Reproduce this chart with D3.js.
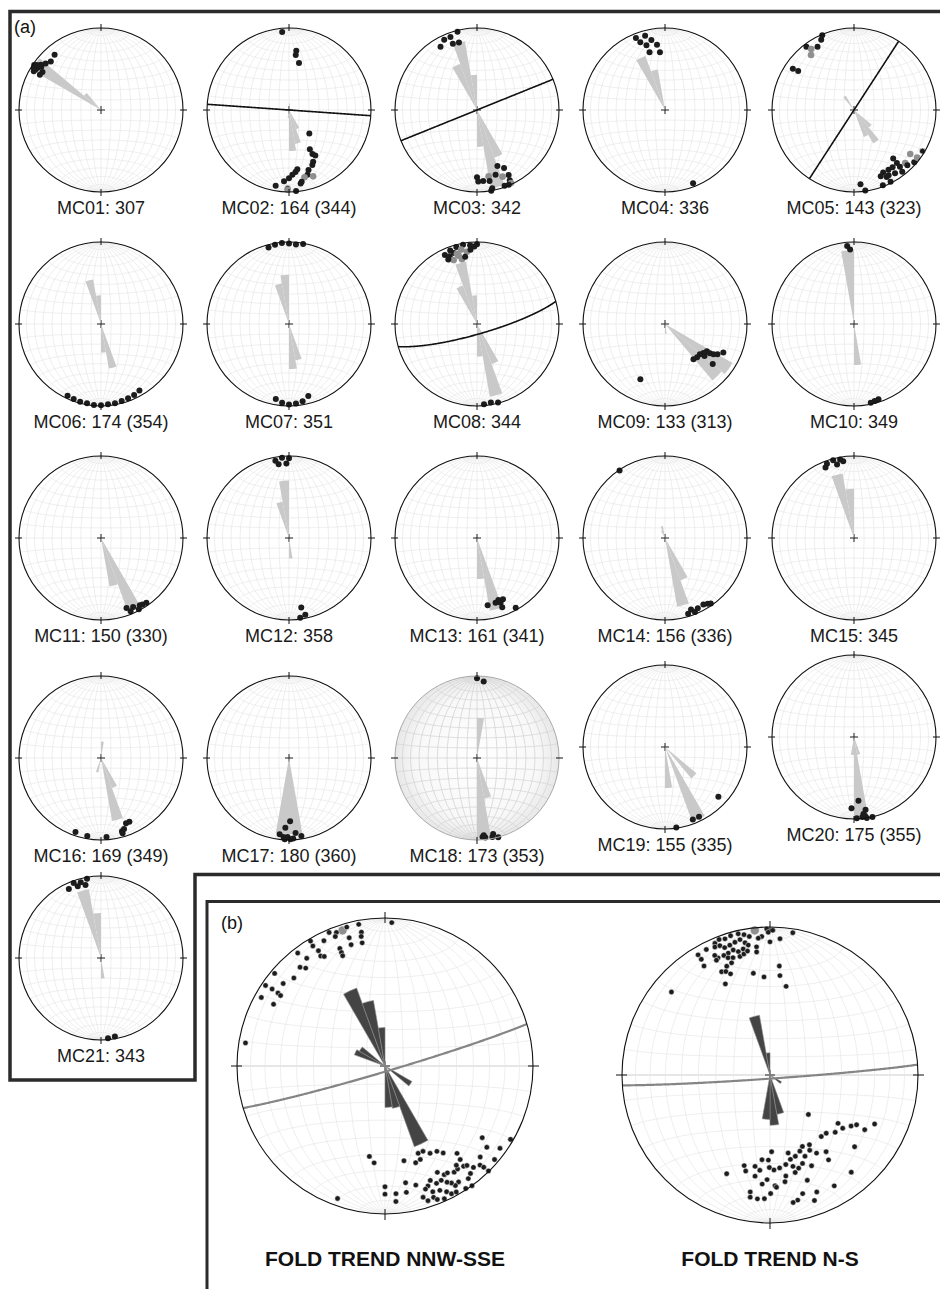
<!DOCTYPE html>
<html><head><meta charset="utf-8">
<script src="https://cdnjs.cloudflare.com/ajax/libs/d3/7.8.5/d3.min.js"></script>
<style>
html,body{margin:0;padding:0;background:#fff;}
svg{display:block;font-family:"Liberation Sans",Arial,Helvetica,sans-serif;}
</style></head><body>
<svg id="fig" width="940" height="1289"></svg>
<script>
// ---- Site data: lineations as [trend, plunge, kind] (kind 1 = grey, 2 = ringed)
const siteLabels = ["MC01: 307","MC02: 164 (344)","MC03: 342","MC04: 336","MC05: 143 (323)",
  "MC06: 174 (354)","MC07: 351","MC08: 344","MC09: 133 (313)","MC10: 349",
  "MC11: 150 (330)","MC12: 358","MC13: 161 (341)","MC14: 156 (336)","MC15: 345",
  "MC16: 169 (349)","MC17: 180 (360)","MC18: 173 (353)","MC19: 155 (335)","MC20: 175 (355)",
  "MC21: 343"];

// rose petals per site: [bin start azimuth, frequency in % of net radius], 10 degree bins
const siteRoses = [
  [[300,98],[310,27]],
  [[170,50],[160,42],[150,25],[0,8],[180,10]],
  [[340,85],[330,60],[350,43],[160,97],[150,62],[170,45]],
  [[330,70],[340,50]],
  [[140,47],[150,35],[130,28],[320,20]],
  [[340,55],[350,35],[160,55],[170,35]],
  [[340,50],[350,60],[160,45],[170,55]],
  [[340,77],[330,50],[350,35],[160,90],[150,52],[170,40]],
  [[120,95],[130,90],[170,12]],
  [[350,90],[170,50]],
  [[150,95],[160,60]],
  [[350,70],[340,45],[170,25]],
  [[160,90],[170,50]],
  [[160,85],[150,55],[340,15],[330,10]],
  [[340,80],[350,60]],
  [[160,78],[150,39],[190,18],[0,20]],
  [[170,93],[180,93]],
  [[0,49],[170,97],[160,50]],
  [[150,97],[130,50],[170,50]],
  [[170,100],[160,22],[180,22]],
  [[340,85],[350,55],[170,25]]
];

const sitePoints = [
  [[304,2],[304,8],[306,11],[302,7],[303,16],[300,15],[300,6],[310,13],[314,16],[320,13],[302,4],[305,5],[307,9]],
  [[355,5],[7,28],[7,33],[12,41],[139,59],[152,45],[152,39],[150,36],[155,31],[157,28],[162,24],[164,19],[167,17,1],[160,15,1],[170,12],[171,10],[172,28],[174,25],[177,22],[180,18],[184,14],[190,7],[181,5,2],[181,3,1],[175,1]],
  [[330,12],[335,6],[340,6],[346,2],[340,15],[345,16],[160,28],[155,23],[154,13],[164,19],[170,19,1],[159,14,1],[180,19],[179,14],[175,14],[170,13],[155,6],[155,2,1],[160,2],[169,3],[170,0],[157,1]],
  [[338,6],[340,13],[345,7],[349,14],[344,19],[353,21],[355,30],[345,28],[159,5]],
  [[323,4],[325,10,1],[322,16,1],[330,12],[335,6],[337,1],[304,11],[305,18],[175,10],[172,1],[159,2],[158,14],[155,17],[150,17],[146,17],[141,25],[141,18],[141,12],[136,11,1],[128,14,1],[131,3],[127,4,1],[121,3,2],[154,10],[153,2],[147,9],[142,5],[136,7],[152,11]],
  [[205,4],[200,3],[195,2],[190,2],[185,1],[180,1],[175,2],[170,2],[165,3],[160,4],[155,5],[150,7]],
  [[350,2],[355,1],[0,2],[5,3],[10,1],[345,4],[170,5],[175,3],[180,2],[185,4],[190,8],[165,10]],
  [[340,5],[345,3],[350,2],[355,4],[342,10],[348,8,1],[352,12,1],[345,15,1],[338,12],[335,8],[355,10],[358,6],[0,3],[347,20,1],[350,18],[340,18,1],[336,15],[344,12,1],[170,3],[175,2],[165,1]],
  [[141,44],[136,43],[131,43],[127,41],[123,39],[123,35],[122,31],[120,27],[129,38],[116,22],[130,25],[204,27]],
  [[355,5],[357,10],[165,3],[162,4],[168,2]],
  [[155,8],[150,6],[148,5],[145,4],[158,4],[152,2],[160,10]],
  [[350,5],[355,2],[0,3],[352,10],[358,10],[170,15],[168,5],[172,2]],
  [[171,18],[164,19],[161,21],[160,17],[160,11],[151,3],[157,20]],
  [[326,1],[160,8],[155,6],[150,7],[147,5],[145,3],[163,4],[158,3]],
  [[340,4],[345,2],[350,3],[338,8],[347,9],[352,6]],
  [[199,5],[190,4],[176,4],[164,8],[162,10],[159,16],[156,16],[164,5]],
  [[179,24],[183,16],[187,7],[184,4],[181,4],[175,9],[177,2],[171,4],[183,1],[179,1]],
  [[0,3],[5,7],[175,6],[174,3],[168,6],[169,2],[165,0],[176,4]],
  [[133,12],[159,6],[154,6],[172,1]],
  [[176,23],[182,14],[171,11],[178,1],[174,2],[172,3],[171,0],[167,0],[173,6]],
  [[340,3],[345,5],[350,2],[342,9],[348,10],[335,8],[170,3],[175,2]]
];

// fitted planes per site: [strike, dip] (right-hand rule) or null
const sitePlanes = [null,[94,90],[68,90],null,[33,90],null,null,[74,80],null,null,
  null,null,null,null,null,null,null,null,null,null,null];

// ---- Grouped data (panel b)
const groupTitles = ["FOLD TREND NNW-SSE","FOLD TREND N-S"];
const groupRoses = [
  [[330,56],[340,45],[350,26],[290,22],[300,20],[150,58],[160,29],[170,28],[120,21]],
  [[340,41],[350,15],[170,34],[160,27],[180,30],[120,9]]
];
const groupPlanes = [[73.5,87],[86,88]];
const groupPoints = [
  [[2.7,3.4],[349.5,3],[350,9],[349.6,12],[342.6,4.5,1],[344.6,3],[340,4.5],[337.3,2.5],[339,7],[344.4,11],[344.4,16],[349.5,16.5],[334,6.5],[329,6],[329.2,2],[330,11],[329.7,15],[331,16.5],[324,11],[322.3,4],[319.3,13],[321,16],[339,16],[339,19],[339,21.3],[314,15.5],[309,12.5],[310,3],[304,3],[304.3,8.5],[304.3,13.5],[304,16],[299,5],[299,15],[279.4,5],
   [189.8,38],[186.4,34.5],[199.7,5.5],[180,19.5],[180,14.5],[175.1,14.5],[175.4,9],[168.7,35],[170,21],[170.4,14.5],[165.5,18],[159.2,37],[156,37],[159.3,33],[162.4,32],[152.7,34],[148.7,33],[146.2,30],[140.5,24.5],[141.2,20],[153.8,21],[151.4,17.5],[149.7,17.5],[146.9,15.5],[144.8,16],[141.9,15],[140.5,14],[147.6,8],[149.5,7],[150.4,10],[151.9,12],[153.8,15],[156.3,14.5],[158.4,18],[160.3,15],[161.8,13.5],[159.2,10],[156.2,9],[153.9,6],[152.5,3],[150.5,2.5],[163.8,8.5],[162.3,5],[159.7,6],[158.6,3.5],[155.9,2],[143.5,6],[144,0],[146.6,1],[133.7,12],[136.2,8],[135.7,5],[126.4,19.5],[128.6,13],[125.6,5],[130.5,3],[135.4,0.5],[141.5,8],[120.3,2,2],[138.9,10],[144.3,18.5]],
  [[354,2,1],[358.7,1.5],[359.3,4],[1.1,2.5],[356.6,7],[0,11],[4.2,8.5],[9.1,3],[355.1,8],[354,14],[353.8,17.5],[351.5,6],[349.5,4],[347.3,2.5],[344.2,2.5],[341.7,3.5],[339.4,2.5],[337.3,4],[336.7,6.5],[338.8,7],[340.4,9.5],[342.8,9],[345.2,8],[347.5,7],[349.3,10],[350.5,12],[348,14],[345.6,15],[343.6,13],[341.1,14],[338.9,14.5],[336.1,14.5],[335.2,12],[333.1,5.5],[329.1,6],[329.3,10],[328.8,15],[335,15.5],[340.3,17],[342.5,18],[345.8,18.5],[347.8,17.5],[349.7,16],[341.1,21],[338.3,22],[334.9,24],[336.9,25],[338.7,27.5],[333.9,32],[350.7,31],[356.5,34],[4.9,27],[5.7,33],[10.3,39],[310.1,14],
   [135.8,59.5],[203.7,28],[195.9,36.5],[189.3,37.5],[185.4,42],[178.8,47],[181.1,42],[180.4,37.5],[177.6,36],[174.1,37],[170,38.5],[166.4,41],[166.9,45],[162.7,42],[158.6,44],[156.7,40],[150.5,45],[159.8,36.5],[162.9,34.5],[165.9,36.5],[155.4,33],[149.2,38.5],[143.8,36],[145.4,31],[140.2,45],[136,44.5],[131.3,41],[126.2,39],[125.4,43],[122.2,35.5],[119.9,33],[120,27],[115.1,23],[130.3,26],[140.1,15.5],[149.9,14.5],[184.1,27],[177.4,26],[171.1,31.5],[172,28],[160.5,25.5],[158.2,16],[160.5,11],[164.6,18],[167.5,14.5],[169.7,13.5],[189.6,21],[189.2,17.5],[185.8,17],[182.6,17.5],[179.7,21],[176.7,25],[188.4,31.5],[186.1,35.5],[181.6,30],[194.2,33.5],[155.6,46],[152.2,42],[165.5,32.5]]
];

// ---- Layout
const colX = [101, 289, 477, 665, 854];
const rowY = [110, 324, 538, 758, 958];
const siteCenter = i => {
  if (i === 18) return [665, 747];
  if (i === 19) return [854, 737];
  return [colX[i % 5], rowY[Math.floor(i / 5)]];
};
const groupCenters = [[385, 1066], [770, 1075]];

const svg = d3.select("#fig");
const rad = Math.PI / 180;

const defs = svg.append("defs");
const shade = defs.append("radialGradient").attr("id", "sphereShade");
shade.append("stop").attr("offset", "0%").attr("stop-color", "#ffffff");
shade.append("stop").attr("offset", "75%").attr("stop-color", "#f8f8f8");
shade.append("stop").attr("offset", "100%").attr("stop-color", "#e8e8e8");

// lineation (trend, plunge) -> lon/lat on the equatorial net sphere
function lineLonLat(t, p) {
  const tr = t * rad, pr = p * rad;
  const N = Math.cos(pr) * Math.cos(tr), E = Math.cos(pr) * Math.sin(tr), D = Math.sin(pr);
  return [Math.atan2(E, D) / rad, Math.asin(Math.max(-1, Math.min(1, N))) / rad];
}
// great circle trace of a plane, lower hemisphere
function planeLonLat(strike, dip) {
  const s = strike * rad, d = dip * rad, dd = s + Math.PI / 2;
  const sv = [Math.cos(s), Math.sin(s), 0];
  const dv = [Math.cos(d) * Math.cos(dd), Math.cos(d) * Math.sin(dd), Math.sin(d)];
  return d3.range(0, 180.01, 1).map(a => {
    const c = Math.cos(a * rad), sn = Math.sin(a * rad);
    const N = c * sv[0] + sn * dv[0], E = c * sv[1] + sn * dv[1], D = c * sv[2] + sn * dv[2];
    return [Math.atan2(E, Math.max(D, 0)) / rad, Math.asin(Math.max(-1, Math.min(1, N))) / rad];
  });
}

function drawNet(cx, cy, r, o) {
  const g = svg.append("g");
  const proj = d3.geoAzimuthalEqualArea().rotate([0, 0]).clipAngle(90)
    .scale(r / Math.SQRT2).translate([cx, cy]).precision(0.2);
  const path = d3.geoPath(proj);
  const grat = d3.geoGraticule().extent([[-90, -90], [90.0001, 90.0001]]).step([10, 10]).precision(1);

  if (o.shaded) g.append("circle").attr("cx", cx).attr("cy", cy).attr("r", r).attr("fill", "url(#sphereShade)");
  g.append("path").datum(grat()).attr("d", path).attr("fill", "none")
    .attr("stroke", o.shaded ? "#d4d4d4" : "#e2e2e2").attr("stroke-width", o.shaded ? 0.8 : 0.6);
  if (o.big) {
    g.append("path").datum({type: "LineString", coordinates: d3.range(-90, 90.01, 2).map(x => [x, 0])})
      .attr("d", path).attr("fill", "none").attr("stroke", "#e6e6e6").attr("stroke-width", 2.2);
  }
  // centre cross
  const cl = o.big ? 5 : 4;
  g.append("path").attr("d", `M${cx - cl},${cy}H${cx + cl}M${cx},${cy - cl}V${cy + cl}`)
    .attr("stroke", "#222").attr("stroke-width", 1);

  // rose petals
  const rScale = d3.scaleLinear().domain([0, 100]).range([0, r]);
  const arc = d3.arc().innerRadius(0);
  g.append("g").attr("transform", `translate(${cx},${cy})`).selectAll("path").data(o.rose).join("path")
    .attr("d", d => arc({outerRadius: rScale(d[1]), startAngle: d[0] * rad, endAngle: (d[0] + 10) * rad}))
    .attr("fill", o.big ? "#444" : "#c9c9c9")
    .attr("stroke", o.big ? "#8c8c8c" : "none").attr("stroke-width", 0.6);

  // fitted plane
  if (o.plane) {
    const pts = planeLonLat(o.plane[0], o.plane[1]).map(ll => proj(ll));
    g.append("path").attr("d", d3.line()(pts)).attr("fill", "none")
      .attr("stroke", o.big ? "#858585" : "#111").attr("stroke-width", o.big ? 2.2 : 1.6);
  }

  // lineations
  g.append("g").selectAll("circle").data(o.points).join("circle")
    .attr("cx", d => proj(lineLonLat(d[0], d[1]))[0])
    .attr("cy", d => proj(lineLonLat(d[0], d[1]))[1])
    .attr("r", d => d[2] === 1 ? (o.big ? 4.5 : 3.3) : (o.big ? 2.7 : 3))
    .attr("fill", d => d[2] === 1 ? "#8f8f8f" : "#1c1c1c")
    .attr("stroke", d => d[2] === 2 ? "#ddd" : (o.big ? "#fff" : "none"))
    .attr("stroke-width", o.big ? 0.5 : 0.8);

  // primitive circle and cardinal ticks
  g.append("circle").attr("cx", cx).attr("cy", cy).attr("r", r).attr("fill", "none")
    .attr("stroke", o.shaded ? "#a9a9a9" : "#111").attr("stroke-width", o.shaded ? 1 : 1.1);
  const ti = o.big ? 5 : 3, to = o.big ? 6 : 4;
  const ticks = [0, 90, 180, 270].map(a => {
    const sx = Math.sin(a * rad), sy = -Math.cos(a * rad);
    return `M${cx + sx * (r - ti)},${cy + sy * (r - ti)}L${cx + sx * (r + to)},${cy + sy * (r + to)}`;
  }).join("");
  g.append("path").attr("d", ticks).attr("stroke", "#111").attr("stroke-width", 1);
  return g;
}

// ---- Panel (a): individual sites
siteLabels.forEach((lab, i) => {
  const [cx, cy] = siteCenter(i);
  drawNet(cx, cy, 82, {rose: siteRoses[i], points: sitePoints[i], plane: sitePlanes[i], shaded: i === 17});
  svg.append("text").attr("x", cx).attr("y", cy + 104).attr("text-anchor", "middle")
    .attr("font-size", 18).attr("fill", "#1a1a1a").text(lab);
});

// ---- Panel (b): grouped sites
groupTitles.forEach((t, i) => {
  const [cx, cy] = groupCenters[i];
  drawNet(cx, cy, 148, {rose: groupRoses[i], points: groupPoints[i], plane: groupPlanes[i], big: true});
  svg.append("text").attr("x", cx).attr("y", 1266).attr("text-anchor", "middle")
    .attr("font-size", 21).attr("font-weight", "bold").attr("fill", "#111").text(t);
});

// ---- Panel frames and letters
svg.append("path")
  .attr("d", "M942,11.5H10V1080H195V874.5H942")
  .attr("fill", "none").attr("stroke", "#2b2b2b").attr("stroke-width", 3.5);
svg.append("path")
  .attr("d", "M942,901.5H207V1292")
  .attr("fill", "none").attr("stroke", "#2b2b2b").attr("stroke-width", 3);
svg.append("text").attr("x", 14).attr("y", 33).attr("font-size", 18).attr("fill", "#111").text("(a)");
svg.append("text").attr("x", 221).attr("y", 929).attr("font-size", 18).attr("fill", "#111").text("(b)");
</script></body></html>
